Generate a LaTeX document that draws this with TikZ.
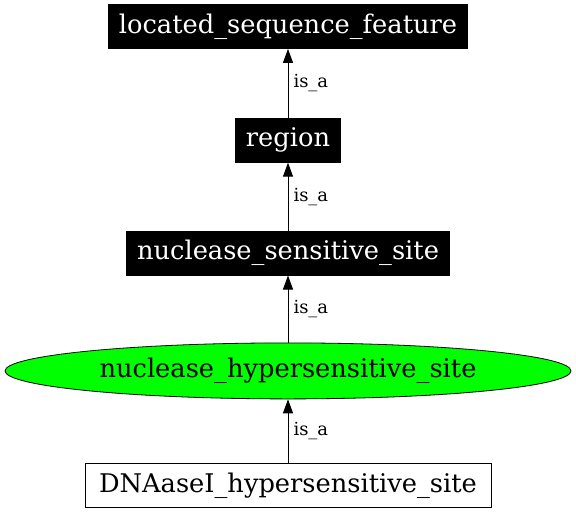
\documentclass[tikz,border=0pt]{standalone}
\usepackage{fontspec}
\setmainfont{DejaVu Serif}
\usetikzlibrary{arrows.meta, positioning, shapes.geometric}
\definecolor{termgreen}{RGB}{0,255,0}
\tikzset{
    ontology/.style={>={Triangle[length=14pt, width=10pt]}, line width=1pt},
    term/.style={draw=black, line width=0.8pt, minimum height=44pt, inner xsep=10.5pt, inner ysep=0pt,
        font=\fontsize{25.7}{30}\selectfont},
    blackterm/.style={term, fill=black, text=white},
    plainterm/.style={term, fill=white, inner xsep=14pt},
    focusterm/.style={ellipse, draw=black, line width=0.8pt, fill=termgreen, inner sep=0pt,
        minimum width=566pt, minimum height=56pt, font=\fontsize{25.7}{30}\selectfont},
    % edge label, set to the right of the arrow
    isa/.style={midway, right, inner xsep=5pt, font=\fontsize{18}{22}\selectfont},
}
\begin{document}
\begin{tikzpicture}[ontology]
    \useasboundingbox (0,0) rectangle (576pt,-512pt);
    \node[blackterm]                    (located) at (288pt,-26.5pt) {located\_sequence\_feature};
    \node[blackterm, below=69pt of located] (region)  {region};
    \node[blackterm, below=68pt of region]  (nss)     {nuclease\_sensitive\_site};
    \node[focusterm, below=67pt of nss]     (nhs)     {nuclease\_hypersensitive\_site};
    \node[plainterm, below=64pt of nhs]     (dnase)   {DNAaseI\_hypersensitive\_site};

    \draw[->] (region) -- node[isa] {is\_a} (located);
    \draw[->] (nss)    -- node[isa] {is\_a} (region);
    \draw[->] (nhs)    -- node[isa] {is\_a} (nss);
    \draw[->] (dnase)  -- node[isa] {is\_a} (nhs);
\end{tikzpicture}
\end{document}
